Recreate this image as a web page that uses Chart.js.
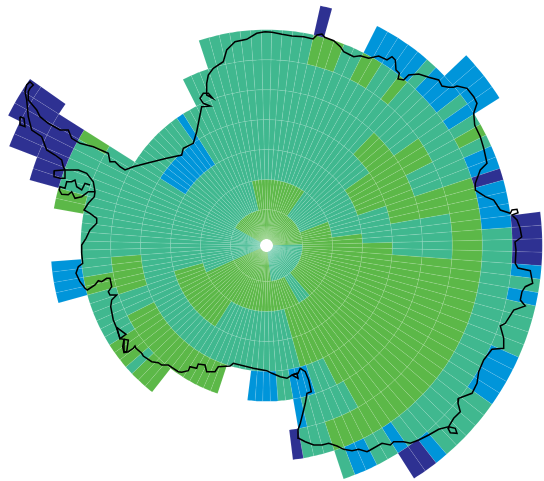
<!DOCTYPE html>
<html>
<head>
<meta charset="utf-8">
<style>
html,body{margin:0;padding:0;background:#fff;overflow:hidden;width:544px;height:481px}
#wrap{position:absolute;left:0;top:0;width:544px;height:481px;overflow:hidden}
#c{position:absolute;left:-23px;top:-44px}
</style>
<script src="https://cdn.jsdelivr.net/npm/chart.js@4"></script>
</head>
<body>
<div id="wrap"><canvas id="c" width="579" height="579"></canvas></div>
<script>
const sectorCount = 128;
// classes: 0 none, 1 teal, 2 green, 3 blue, 4 navy
const classColors = ['rgba(0,0,0,0)','#40B88F','#5CB848','#0095DA','#2E3192'];
// each entry: first sector, last sector, class (sector 0 is centred on the top of the circle, going clockwise)
const ring0 = [[0,31,2],[32,61,1],[62,87,2],[88,106,1],[107,127,2]];
const ring1 = [[0,12,2],[13,24,1],[25,49,2],[50,53,1],[54,87,2],[88,123,1],[124,127,2]];
const ring2 = [[0,29,1],[30,58,2],[59,75,1],[76,90,2],[91,127,1]];
const ring3 = [[0,19,1],[20,25,2],[26,31,1],[32,58,2],[59,107,1],[108,116,3],[117,127,1]];
const ring4 = [[0,15,1],[16,28,2],[29,33,1],[34,54,2],[55,57,1],[58,60,3],[61,62,1],[63,66,3],[71,86,2],[87,89,1],[90,94,2],[95,115,1],[116,116,3],[117,127,1]];
const ring5 = [[0,19,1],[20,22,2],[23,25,1],[26,28,2],[29,33,1],[34,53,2],[54,59,1],[60,60,3],[78,80,2],[81,81,1],[82,84,2],[85,90,1],[91,92,2],[93,107,1],[119,127,1]];
const ring6 = [[0,4,1],[5,7,2],[8,9,1],[10,11,2],[12,13,1],[14,14,2],[15,25,1],[26,57,2],[58,60,1],[61,61,4],[91,94,3],[100,101,2],[102,106,1],[107,107,2],[122,127,1]];
const ring7 = [[5,5,4],[10,14,3],[15,15,1],[16,18,3],[19,19,1],[20,20,3],[21,21,1],[22,22,2],[23,23,1],[24,25,3],[26,26,4],[27,30,3],[31,51,1],[52,52,3],[53,54,1],[55,56,3],[57,57,1],[102,107,4]];
const ring8 = [[17,20,3],[30,33,4],[34,34,3],[35,35,1],[36,36,3],[37,40,1],[41,44,3],[45,49,1],[50,50,3],[51,52,4],[104,108,4]];
const ring9 = [[106,108,4]];
const ringEdges = [6.5,36,66,96,126,156,186,216,246,276,289.5];

const coastMain = [[265,31.7],[272,32.3],[282,34.3],[292,36],[303.7,36.7],[313,39],[317,35],[322,34],[324.7,37.3],[333.7,40.7],[340.3,46.7],[343.7,51.7],[350.3,55],[353.7,56.7],[360.3,55.7],[368.7,58.3],[378.7,56],[387,60],[392,56.7],[395.3,60],[396,70],[399.3,73.3],[398,79],[403.7,80],[408.7,75],[418.7,74],[428.7,77.3],[438.7,80],[442,86],[448.7,87.3],[453.7,87.3],[457,86],[467,88.3],[473.7,96.7],[477,103.3],[473.7,113.3],[474.7,125],[480.3,136.7],[483.7,148.3],[487,163.3],[480.3,170],[475.3,183.3],[475.3,190],[485.3,196.7],[493.7,200],[500.3,210],[510.3,213.3],[512,210],[517,209.3],[518,212.7],[512,215],[517,220],[520,228],[521.7,237],[515,242],[516,250],[515.3,263.3],[518,268],[530.3,270.7],[532.7,283.3],[525.3,286.7],[522,291.7],[520.3,300],[525.3,306],[513.7,310],[505.3,323.3],[500.3,326],[503.7,338.3],[503.7,348.3],[492,349.3],[483.7,360],[478.7,371.7],[477,383.3],[472,393.3],[458.7,398.3],[458,403.3],[460.3,411.7],[453.7,418.3],[448.7,426.7],[438.7,429.3],[428.7,435],[418.7,440],[410.3,443.3],[403.7,441.7],[393.7,441.7],[390.3,445],[382,443.3],[370.3,450],[367,451.7],[358.7,449.3],[352,450.7],[343.7,449.3],[337,446],[328.7,443.3],[322,445],[313.7,445],[305.3,441.7],[298.7,438.3],[298,430],[300.3,423.3],[305.3,403.3],[307,393.3],[311.3,391.7],[308.7,380],[305.3,371.7],[300.3,368.3],[298,373.3],[292,375],[287,378.3],[280.3,376.7],[272,373.3],[266.7,370.7],[253.3,368.3],[233.3,363.3],[230,366],[218.3,366.7],[215,371.7],[206.7,371.7],[205,365],[198.3,364],[196.7,368.3],[190,366.7],[188.3,370.7],[181.7,372.3],[178.3,371.7],[173.3,368.3],[168.3,365],[161.7,365],[158.3,362.7],[151.7,361.7],[143.3,356],[141.7,353.3],[136,348.3],[135,346],[133.3,348.3],[128.3,351.7],[124,352.7],[122.7,346.7],[124,339.3],[120,338.7],[116.7,328.3],[113.3,320],[110.7,306.7],[111.7,300],[116.7,295],[110,295],[108.3,291.7],[111.7,286.7],[110,278.3],[106.7,278.3],[101.7,281.7],[98.3,280.7],[95,285],[87.3,290],[85,288.3],[80,281.7],[76,273.3],[78.3,266.7],[82.7,263.3],[81.7,253.3],[81.7,245],[86,238.3],[90,230],[96.7,223.3],[96.7,218.3],[90,213.3],[84,210],[88.3,203.3],[94.3,196.7],[95,191.7],[93.3,181.7],[86.7,173.3],[78.3,170],[63.3,170],[54.3,170.7],[54,176.7],[60,178.3],[65,178.3],[65,170],[63.3,166.7],[61.7,160],[55,155],[46.7,150],[41.7,136.7],[31.7,130],[28.3,116.7],[26.7,100],[25,91.7],[26.7,85],[30,81.7],[33.3,85],[30,88.3],[28.3,91.7],[28.3,100],[36.7,110],[40,116.7],[48.3,123.3],[60,130],[68.3,130],[71.7,138.3],[80,143.3],[93.3,146.7],[108.3,153.3],[110,161.7],[115,161.7],[120,166.7],[125,170],[133.3,166.7],[146.7,163.3],[166.7,158.3],[181.7,155],[183.3,148.3],[193.3,143.3],[196.7,131.7],[200,115],[201.7,106.7],[210,106],[203.3,103.3],[200,98.3],[203.3,93.3],[208.3,93.3],[212.7,98.3],[206.7,95],[206.7,83.3],[208.3,75],[213.3,68.3],[223.3,61.7],[226.7,50],[235,41.7],[246.7,39.3],[256.7,33.3],[265,31.7]];
const coastInlet = [[95,191.7],[88.3,191.7],[81.7,196.7],[75,198.3],[71.7,191.7],[68.3,194.7],[61.7,194.3],[59.3,190],[60,186.7],[65,188.3],[66.7,181.7],[71.7,181.7],[75,180],[76.7,186.7],[81.7,190],[85,183.3],[90,185]];
const coastLoopA = [[20,116.7],[24,118.3],[25,126.7],[20.7,125],[20,116.7]];
const coastLoopB = [[116.7,327.3],[126,334.3],[120,338.7],[116.7,327.3]];
const coastLoopC = [[124,339.3],[128.3,340],[126.7,351.7],[124,351.7],[124,339.3]];
const coastLoopD = [[448.7,426.7],[455.3,428.3],[457,433.3],[450.3,432.7],[448,428.3],[448.7,426.7]];
const coastLoopE = [[292,375],[297,373.3],[298,378.3],[292,375]];

function expand(ranges){
  const classes = new Array(sectorCount).fill(0);
  ranges.forEach(function(r){ for(let k=r[0];k<=r[1];k++) classes[k]=r[2]; });
  return classes;
}
const ringsOuterFirst = [ring9,ring8,ring7,ring6,ring5,ring4,ring3,ring2,ring1,ring0];
const sectorWidth = 360/sectorCount;
const datasets = [];
ringsOuterFirst.forEach(function(ring,i){
  const classes = expand(ring);
  const n = ringEdges.length-1;
  datasets.push({
    type:'doughnut',
    data:classes.map(function(){return 1;}),
    weight:ringEdges[n-i]-ringEdges[n-i-1],
    cutout:ringEdges[0],
    rotation:-sectorWidth/2,
    circumference:360,
    backgroundColor:classes.map(function(c){return classColors[c];}),
    borderColor:classes.map(function(c){return c===0?'rgba(0,0,0,0)':'rgba(255,255,255,0.17)';}),
    borderWidth:0.5,
    borderAlign:'center',
    order:2
  });
});
[coastMain,coastInlet,coastLoopA,coastLoopB,coastLoopC,coastLoopD,coastLoopE].forEach(function(path){
  datasets.push({
    type:'scatter',
    data:path.map(function(p){return {x:p[0],y:p[1]};}),
    showLine:true,
    pointRadius:0,
    borderColor:'#000',
    borderWidth:1.5,
    fill:false,
    weight:0,
    order:1
  });
});
new Chart(document.getElementById('c'),{
  type:'scatter',
  data:{datasets:datasets},
  options:{
    responsive:false,
    animation:false,
    events:[],
    layout:{padding:0},
    plugins:{legend:{display:false},tooltip:{enabled:false}},
    scales:{
      x:{type:'linear',display:false,min:-23,max:556},
      y:{type:'linear',display:false,min:-44,max:535,reverse:true}
    }
  }
});
</script>
</body>
</html>
